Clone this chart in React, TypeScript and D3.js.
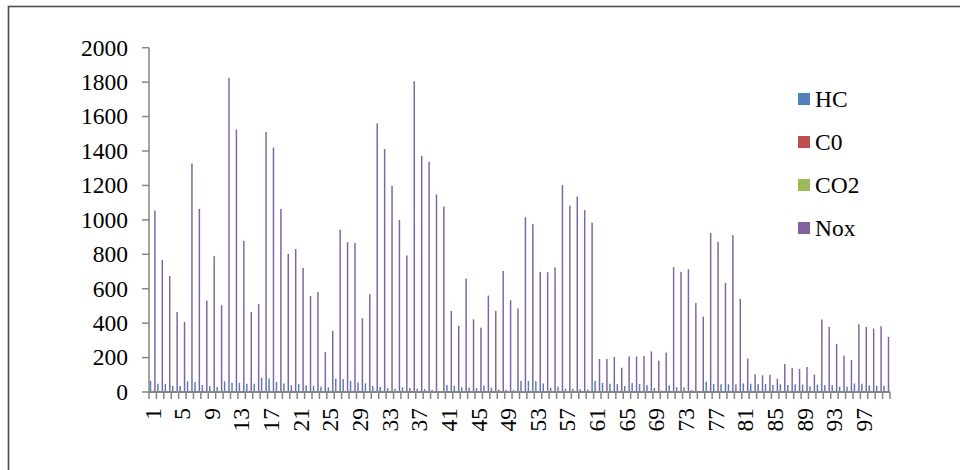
import * as d3 from 'd3';
import * as React from 'react';

// category numbers 1..100 along the x axis
const categories = d3.range(1, 101).map(String);
const seriesNames = ['HC', 'C0', 'CO2', 'Nox'];
const seriesColors = ['#4F81BD', '#C0504D', '#9BBB59', '#8064A2'];

const hc = [
  64, 48, 48, 35, 35, 62, 58, 41, 35, 29, 62, 54, 53, 48, 48, 82, 79, 58, 50, 39,
  46, 39, 35, 31, 27, 77, 75, 64, 56, 50, 35, 29, 23, 19, 27, 24, 19, 17, 12, 6,
  41, 35, 27, 25, 23, 37, 25, 14, 12, 10, 64, 64, 62, 50, 25, 31, 19, 19, 17, 15,
  64, 52, 48, 46, 35, 52, 46, 40, 24, 8, 39, 29, 27, 12, 4, 60, 47, 45, 45, 45,
  50, 48, 47, 47, 41, 45, 41, 45, 43, 33, 43, 40, 40, 31, 31, 50, 48, 39, 36, 37,
];
const c0 = [
  1, 1, 1, 1, 1, 1, 1, 1, 1, 1, 1, 1, 1, 1, 1, 1, 1, 1, 1, 1,
  1, 1, 1, 1, 1, 1, 1, 1, 1, 1, 1, 1, 1, 1, 1, 1, 1, 1, 1, 1,
  1, 1, 1, 1, 1, 1, 1, 1, 1, 1, 1, 1, 1, 1, 1, 1, 1, 1, 1, 1,
  1, 1, 1, 1, 1, 1, 1, 1, 1, 1, 1, 1, 1, 1, 1, 1, 1, 1, 1, 1,
  1, 1, 1, 1, 1, 1, 1, 1, 1, 1, 1, 1, 1, 1, 1, 1, 1, 1, 1, 1,
];
const co2 = [
  2, 2, 2, 2, 2, 2, 2, 2, 2, 2, 2, 2, 2, 2, 2, 2, 2, 2, 2, 2,
  2, 2, 2, 2, 2, 2, 2, 2, 2, 2, 2, 2, 2, 2, 2, 2, 2, 2, 2, 2,
  2, 2, 2, 2, 2, 2, 2, 2, 2, 2, 2, 2, 2, 2, 2, 2, 2, 2, 2, 2,
  2, 2, 2, 2, 2, 2, 2, 2, 2, 2, 2, 2, 2, 2, 2, 2, 2, 2, 2, 2,
  2, 2, 2, 2, 2, 2, 2, 2, 2, 2, 2, 2, 2, 2, 2, 2, 2, 2, 2, 2,
];
const nox = [
  1054, 767, 674, 465, 407, 1327, 1064, 531, 789, 504,
  1825, 1525, 878, 465, 510, 1510, 1420, 1064, 802, 831,
  721, 558, 580, 233, 355, 942, 870, 866, 428, 568,
  1560, 1411, 1198, 1000, 793, 1805, 1372, 1337, 1147, 1077,
  471, 384, 659, 422, 374, 560, 471, 703, 533, 486,
  1015, 975, 698, 696, 723, 1202, 1083, 1136, 1056, 984,
  192, 192, 203, 141, 207, 207, 209, 236, 182, 229,
  725, 698, 713, 517, 438, 924, 872, 634, 911, 541,
  194, 103, 97, 101, 76, 163, 140, 134, 145, 101,
  421, 378, 279, 211, 186, 393, 378, 368, 382, 320,
];
const seriesValues = [hc, c0, co2, nox];

const yTicks = [0, 200, 400, 600, 800, 1000, 1200, 1400, 1600, 1800, 2000];
const xTickLabels = ['1', '5', '9', '13', '17', '21', '25', '29', '33', '37', '41', '45', '49',
  '53', '57', '61', '65', '69', '73', '77', '81', '85', '89', '93', '97'];

const W = 960;
const H = 470;
const FONT = '"Liberation Serif", "Times New Roman", serif';
const AXIS = '#868686';

export default function App() {
  const x = d3.scaleBand().domain(categories).range([149, 890]).paddingInner(0).paddingOuter(0);
  const inner = d3.scaleBand().domain(seriesNames).range([0, x.bandwidth()]).paddingInner(0).paddingOuter(0.52);
  const y = d3.scaleLinear().domain([0, 2000]).range([392, 47.7]);

  const boundaries = categories.map((c) => x(c)).concat([x.range()[1]]);

  return (
    <svg width={W} height={H} style={{ position: 'absolute', left: 0, top: 0, background: '#fff' }}>
      <rect x={8.5} y={6.5} width={1000} height={1000} fill="none" stroke="#4d4d4d" strokeWidth={1.6} />

      {/* bars */}
      {seriesNames.map((s, si) => (
        <g key={s} fill={seriesColors[si]}>
          {categories.map((c, i) => {
            const v = seriesValues[si][i];
            return (
              <rect
                key={c}
                x={x(c) + inner(s)}
                y={y(v)}
                width={inner.bandwidth()}
                height={y(0) - y(v)}
              />
            );
          })}
        </g>
      ))}

      {/* y axis */}
      <line x1={149} x2={149} y1={y(2000)} y2={y(0)} stroke={AXIS} strokeWidth={1.5} />
      {yTicks.map((t) => (
        <g key={t}>
          <line x1={142} x2={149} y1={y(t)} y2={y(t)} stroke={AXIS} strokeWidth={1.5} />
          <text x={128} y={y(t)} dy={7.8} textAnchor="end" fontFamily={FONT} fontSize={23.5} fill="#000">
            {t}
          </text>
        </g>
      ))}

      {/* x axis */}
      <line x1={149} x2={890} y1={y(0)} y2={y(0)} stroke={AXIS} strokeWidth={1.8} />
      {boundaries.map((b, i) => (
        <line key={i} x1={b} x2={b} y1={y(0)} y2={y(0) + 7} stroke={AXIS} strokeWidth={1.5} />
      ))}
      {xTickLabels.map((l) => {
        const cx = x(l) + x.bandwidth() / 2;
        return (
          <text
            key={l}
            transform={`translate(${cx},408) rotate(-90)`}
            dy={7.8}
            textAnchor="end"
            fontFamily={FONT}
            fontSize={23.5}
            fill="#000"
          >
            {l}
          </text>
        );
      })}

      {/* legend */}
      {seriesNames.map((s, si) => {
        const cy = 99 + si * 43;
        return (
          <g key={s}>
            <rect x={798} y={cy - 6} width={12} height={12} fill={seriesColors[si]} />
            <text x={815} y={cy} dy={8} fontFamily={FONT} fontSize={23.5} fill="#000">
              {s}
            </text>
          </g>
        );
      })}
    </svg>
  );
}
